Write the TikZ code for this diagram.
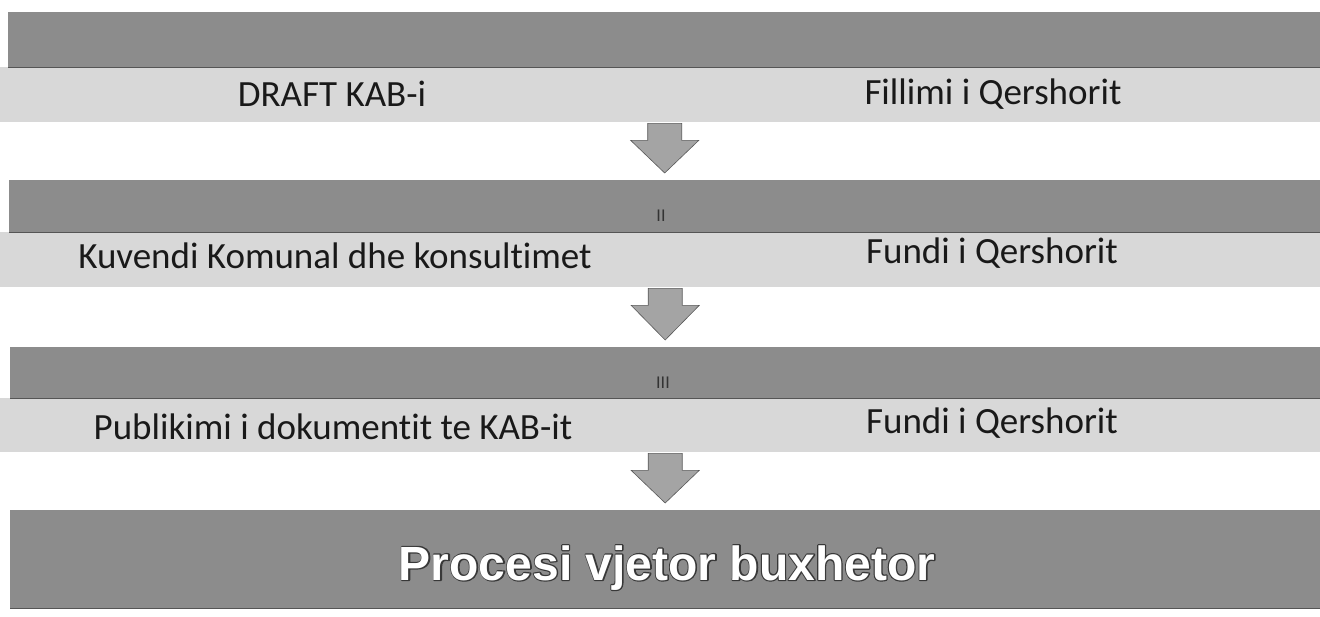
\documentclass[tikz,border=0pt]{standalone}
\usepackage{fontspec}
\setmainfont{Carlito}[RawFeature=-liga]
\newfontfamily\boldsans{Liberation Sans}
\usetikzlibrary{calc}
\definecolor{darkband}{HTML}{8C8C8C}
\definecolor{lightband}{HTML}{D8D8D8}
\definecolor{arrowgray}{HTML}{A4A4A4}
\definecolor{edgegray}{HTML}{555555}
\tikzset{
  darkbar/.style={fill=darkband, draw=none, inner sep=0pt, anchor=north west, minimum width=#1},
  lightbar/.style={fill=lightband, draw=none, inner sep=0pt, anchor=north west, minimum width=1320pt},
  label text/.style={font=\fontsize{37}{40}\selectfont, text=black!90, anchor=base, inner sep=0pt},
  roman mark/.style={font=\fontsize{18}{20}\selectfont, text=black!80, inner sep=0pt},
  title text/.style={font=\boldsans\bfseries\fontsize{48}{52}\selectfont, text=white, anchor=base, inner sep=0pt},
  blockarrow/.style={fill=arrowgray, draw=gray!70!black, line width=0.6pt, line join=miter}
}
\newcommand{\blkarrow}[2]{%
  \path[blockarrow] ($(#1)+(-17,1)$) -- ($(#1)+(17,1)$) -- ($(#1)+(17,18)$) -- ($(#1)+(34,18)$)
    -- ($(#2)+(0,-7)$) -- ($(#1)+(-34,18)$) -- ($(#1)+(-17,18)$) -- cycle;}
\newcommand{\outlined}[1]{\rlap{\special{pdf:code q 1 Tr 2.4 w 1 j 0.22 0.22 0.22 RG}#1\special{pdf:code Q}}#1}
\begin{document}
\begin{tikzpicture}[x=1pt,y=-1pt]
\useasboundingbox (0,0) rectangle (1320,616);
\fill[white] (0,0) rectangle (1320,616);
% bands
\node[darkbar=1312pt, minimum height=55pt] (d1) at (8,12) {};
\node[lightbar, minimum height=55pt] (l1) at (0,67) {};
\node[darkbar=1311pt, minimum height=52pt] (d2) at (9,180) {};
\node[lightbar, minimum height=55pt] (l2) at (0,232) {};
\node[darkbar=1310pt, minimum height=51pt] (d3) at (10,347) {};
\node[lightbar, minimum height=54pt] (l3) at (0,398) {};
\node[darkbar=1310pt, minimum height=98pt] (d4) at (10,510) {};
% shadow edges under dark bands
\foreach \b in {d1,d2,d3,d4}{\draw[edgegray, line width=1.4pt] (\b.south west) -- (\b.south east);}
% arrows
\coordinate (a1) at (l1.south -| d2.north);
\coordinate (a2) at (l2.south -| d3.north);
\coordinate (a3) at (l3.south -| d4.north);
\blkarrow{a1}{d2.north}
\blkarrow{a2}{d3.north}
\blkarrow{a3}{d4.north}
% texts
\node[label text] (t1a) at (332,106) {DRAFT KAB-i};
\node[label text] (t1b) at (993,104) {Fillimi i Qershorit};
\node[label text] (t2a) at (335,268) {Kuvendi Komunal dhe konsultimet};
\node[label text] (t2b) at (992,263) {Fundi i Qershorit};
\node[label text] (t3a) at (333,439) {Publikimi i dokumentit te KAB-it};
\node[label text] (t3b) at (992,433) {Fundi i Qershorit};
\node[roman mark] (r2) at (661,216) {II};
\node[roman mark] (r3) at (663,383) {III};
% final title with dark outline
\node[title text] (t4) at (667,580) {\outlined{Procesi vjetor buxhetor}};
\end{tikzpicture}
\end{document}
